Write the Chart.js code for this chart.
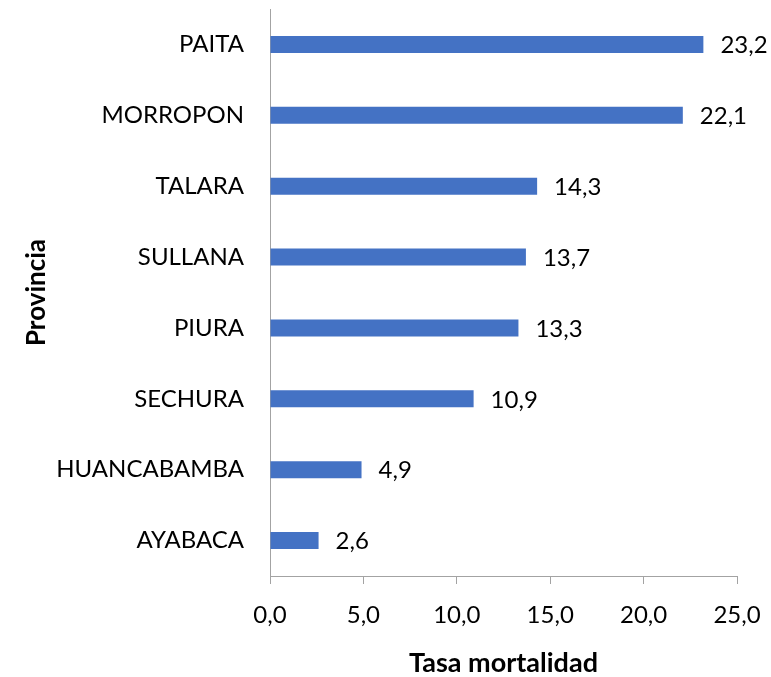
<!DOCTYPE html>
<html>
<head>
<meta charset="utf-8">
<script src="https://cdn.jsdelivr.net/npm/chart.js@4"></script>
<style>
body{margin:0;background:#fff;}
#wrap{width:771px;height:677px;position:relative;}
</style>
</head>
<body>
<div id="wrap"><canvas id="mortChart"></canvas></div>
<script>
const provincias = ['PAITA','MORROPON','TALARA','SULLANA','PIURA','SECHURA','HUANCABAMBA','AYABACA'];
const tasas = [23.2, 22.1, 14.3, 13.7, 13.3, 10.9, 4.9, 2.6];
const ejeX = {min: 0, max: 25, step: 5};

const fam = 'Lato, "DejaVu Sans Condensed", sans-serif';
const gris = '#a3a3a3';

function coma(v){
	return Number(v).toFixed(1).replace('.', ',');
}

// etiquetas de valor al final de cada barra
const etiquetas = {
	id: 'etiquetas',
	afterDatasetsDraw(chart){
		const ctx = chart.ctx;
		const meta = chart.getDatasetMeta(0);
		ctx.save();
		ctx.font = '24px ' + fam;
		ctx.fillStyle = '#000';
		ctx.textAlign = 'left';
		ctx.textBaseline = 'middle';
		meta.data.forEach((bar, i) => {
			ctx.fillText(coma(tasas[i]), bar.x + 17, bar.y + 1);
		});
		ctx.restore();
	}
};

const mortChart = new Chart(document.querySelector('#mortChart').getContext('2d'), {
	type: 'bar',
	data: {
		labels: provincias,
		datasets: [{
			data: tasas,
			backgroundColor: '#4472c4',
			barPercentage: 0.24,
			categoryPercentage: 1
		}]
	},
	options: {
		indexAxis: 'y',
		responsive: true,
		maintainAspectRatio: false,
		animation: false,
		layout: {padding: {top: 9, right: 34, left: 0, bottom: 0}},
		plugins: {legend: {display: false}, tooltip: {enabled: false}},
		scales: {
			x: {
				min: ejeX.min,
				max: ejeX.max,
				ticks: {
					stepSize: ejeX.step,
					color: '#000',
					font: {family: fam, size: 24},
					padding: 17,
					callback: v => coma(v)
				},
				grid: {drawOnChartArea: false, drawTicks: true, tickLength: 8, color: gris},
				border: {display: true, color: gris, width: 1},
				title: {
					display: true,
					text: 'Tasa mortalidad',
					color: '#000',
					font: {family: fam, size: 27, weight: 'bold', lineHeight: 1},
					padding: {top: 0, bottom: 0}
				},
				afterFit(scale){
					scale.height = 101;
					scale.paddingLeft = 0;
					scale.paddingRight = 0;
				}
			},
			y: {
				ticks: {
					color: '#000',
					font: {family: fam, size: 24},
					padding: 26
				},
				grid: {display: false, drawTicks: false},
				border: {display: true, color: gris, width: 1},
				title: {
					display: true,
					text: 'Provincia',
					color: '#000',
					font: {family: fam, size: 26, weight: 'bold', lineHeight: 1},
					padding: {top: 24, bottom: 0}
				},
				afterFit(scale){
					scale.width = 270;
					scale.paddingTop = 0;
					scale.paddingBottom = 0;
				}
			}
		}
	},
	plugins: [etiquetas]
});
</script>
</body>
</html>
